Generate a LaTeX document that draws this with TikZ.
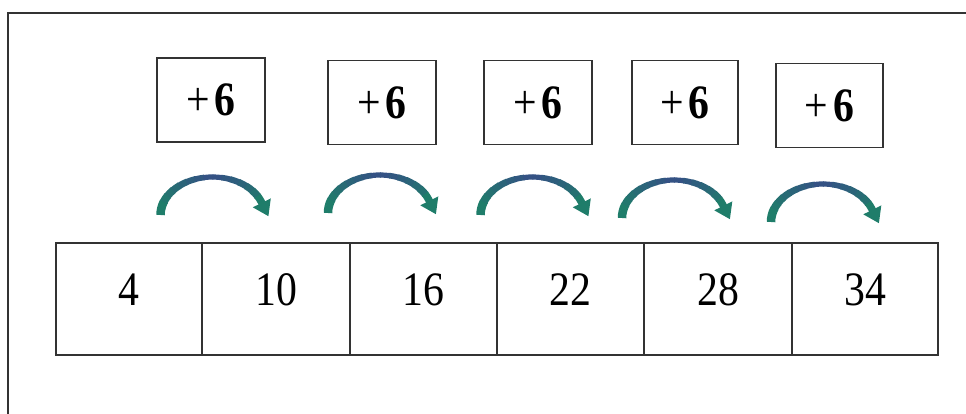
\documentclass[tikz,border=0pt]{standalone}
\usepackage{fontspec}
\setmainfont{Liberation Serif}
\newfontfamily\narrowserif[FakeStretch=0.87]{Liberation Serif}
\usetikzlibrary{arrows.meta}
\definecolor{hopcol}{HTML}{1F7D6A}
\definecolor{hoptop}{HTML}{354F86}
\definecolor{framecol}{HTML}{333333}
\begin{document}
\begin{tikzpicture}[x=1pt,y=-1pt,
  cellbox/.style={draw=framecol,line width=1.8pt,minimum width=#1,minimum height=112pt,
    inner sep=0pt,font=\narrowserif\fontsize{48}{48}\selectfont,text depth=18pt},
  plusbox/.style={draw=framecol,line width=1.8pt,minimum width=#1,minimum height=84pt,
    inner sep=0pt,font=\narrowserif\fontsize{48}{48}\selectfont},
  hophead/.style={draw=hopcol,line width=7.5pt,-{Triangle[length=15pt,width=19pt]}}]
\useasboundingbox (0,0) rectangle (966,414);
\begin{scope}
  \clip (0,0) rectangle (966,414);
  \draw[framecol,line width=2.2pt] (8,13) rectangle (1000,460);
\end{scope}
% plus boxes
\node[plusbox=108pt] (p1) at (211,100)   {+\kern5pt\textbf{6}};
\node[plusbox=108pt] (p2) at (382,102.5) {+\kern5pt\textbf{6}};
\node[plusbox=108pt] (p3) at (538,102.5) {+\kern5pt\textbf{6}};
\node[plusbox=106pt] (p4) at (685,102.5) {+\kern5pt\textbf{6}};
\node[plusbox=107pt] (p5) at (829.5,105.5) {+\kern5pt\textbf{6}};
% cells
\node[cellbox=146pt] (c1) at (129,299)   {4};
\node[cellbox=148pt] (c2) at (276,299)   {10};
\node[cellbox=147pt] (c3) at (423.5,299) {16};
\node[cellbox=147pt] (c4) at (570.5,299) {22};
\node[cellbox=148pt] (c5) at (718,299)   {28};
\node[cellbox=146pt] (c6) at (865,299)   {34};
% hop arrows (centres of the arcs)
\coordinate (h1) at (212.5,215);
\coordinate (h2) at (380,213);
\coordinate (h3) at (532.5,215);
\coordinate (h4) at (674,218);
\coordinate (h5) at (823,222);
\foreach \h in {h1,h2,h3,h4,h5}{
  \foreach \t in {180,190,...,320}{
    \pgfmathsetmacro\p{min(100,abs(\t+5-270)/75*100)}
    \pgfmathsetmacro\w{5+3.5*\p/100}
    \draw[draw=hopcol!\p!hoptop,line width=\w pt]
      (\h) ++(\t:52 and 38) arc[start angle=\t,end angle=\t+11,x radius=52,y radius=38];
  }
  \draw[hophead] (\h) ++(330:52 and 38) arc[start angle=330,end angle=340,x radius=52,y radius=38] -- ++(7.1,14.3);
}
\end{tikzpicture}
\end{document}
